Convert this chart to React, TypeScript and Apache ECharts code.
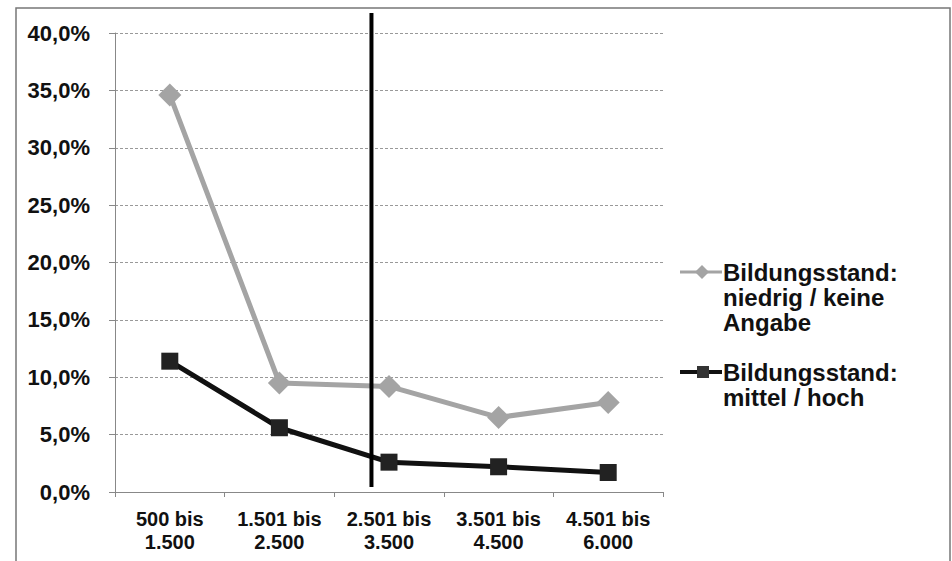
import React, { useEffect, useRef } from "react";
import * as echarts from "echarts";

// Einkommensklassen (Euro) auf der x-Achse
const categories = [
  "500 bis\n1.500",
  "1.501 bis\n2.500",
  "2.501 bis\n3.500",
  "3.501 bis\n4.500",
  "4.501 bis\n6.000",
];

// Anteile in Prozent
const niedrigKeineAngabe = [34.6, 9.5, 9.2, 6.5, 7.8];
const mittelHoch = [11.4, 5.6, 2.6, 2.2, 1.7];

const seriesNames = [
  "Bildungsstand:\nniedrig / keine\nAngabe",
  "Bildungsstand:\nmittel / hoch",
];

const yMin = 0;
const yMax = 40;
const yInterval = 5;

// Position of the vertical divider, as a fractional category index
const dividerIndex = 1.84;

const FONT = "'Liberation Sans', Arial, sans-serif";
const GRAY = "#a4a4a4";
const BLACK = "#111111";

export default function App() {
  const ref = useRef<HTMLDivElement>(null);

  useEffect(() => {
    document.body.style.margin = "0";
    if (!ref.current) return;
    const chart = echarts.init(ref.current, null, { renderer: "svg" });

    chart.setOption({
      animation: false,
      backgroundColor: "#ffffff",
      grid: { left: 115, right: 289, top: 33, bottom: 69 },
      xAxis: {
        type: "category",
        data: categories,
        boundaryGap: true,
        axisLine: { lineStyle: { color: "#888", width: 1 } },
        axisTick: { show: true, length: 5, lineStyle: { color: "#888" } },
        axisLabel: {
          interval: 0,
          fontFamily: FONT,
          fontWeight: "bold",
          fontSize: 20,
          lineHeight: 23,
          color: "#111",
          margin: 15,
        },
        splitLine: { show: false },
      },
      yAxis: {
        type: "value",
        min: yMin,
        max: yMax,
        interval: yInterval,
        axisLine: { show: true, lineStyle: { color: "#888", width: 1 } },
        axisTick: { show: true, length: 6, lineStyle: { color: "#888" } },
        axisLabel: {
          fontFamily: FONT,
          fontWeight: "bold",
          fontSize: 22,
          color: "#111",
          margin: 25,
          formatter: (v: number) => v.toFixed(1).replace(".", ",") + "%",
        },
        splitLine: { show: true, lineStyle: { color: "#999", width: 1, type: [3, 2] } },
      },
      legend: { show: false },
      series: [
        {
          name: seriesNames[0],
          type: "line",
          data: niedrigKeineAngabe,
          symbol: "diamond",
          symbolSize: 23,
          itemStyle: { color: GRAY },
          lineStyle: { color: GRAY, width: 5 },
          z: 2,
        },
        {
          name: seriesNames[1],
          type: "line",
          data: mittelHoch,
          symbol: "rect",
          symbolSize: 17,
          itemStyle: { color: "#222" },
          lineStyle: { color: BLACK, width: 5 },
          z: 3,
        },
      ],
    });

    const x1 = chart.convertToPixel({ xAxisIndex: 0 }, 1) as number;
    const x2 = chart.convertToPixel({ xAxisIndex: 0 }, 2) as number;
    const xDivider = x1 + (dividerIndex - 1) * (x2 - x1);
    const yTop = chart.convertToPixel({ yAxisIndex: 0 }, yMax) as number;
    const yBottom = chart.convertToPixel({ yAxisIndex: 0 }, yMin) as number;

    // Legend entries: key line with marker, then the multi-line label
    const legendLeft = 680;
    const keyWidth = 42;
    const lineH = 25;
    const legendRows = [
      { top: 272, color: GRAY, lw: 3, marker: "diamond" },
      { top: 372, color: BLACK, lw: 4, marker: "square" },
    ];
    const legendGraphics: any[] = [];
    legendRows.forEach((row, i) => {
      legendGraphics.push({
        type: "line",
        shape: { x1: legendLeft, y1: row.top, x2: legendLeft + keyWidth, y2: row.top },
        style: { stroke: row.color, lineWidth: row.lw },
      });
      if (row.marker === "diamond") {
        legendGraphics.push({
          type: "polygon",
          shape: {
            points: [
              [legendLeft + 22, row.top - 7],
              [legendLeft + 29, row.top],
              [legendLeft + 22, row.top + 7],
              [legendLeft + 15, row.top],
            ],
          },
          style: { fill: GRAY },
        });
      } else {
        legendGraphics.push({
          type: "rect",
          shape: { x: legendLeft + 17, y: row.top - 6, width: 12, height: 12 },
          style: { fill: "#333" },
        });
      }
      legendGraphics.push({
        type: "text",
        x: legendLeft + keyWidth + 1,
        y: row.top - lineH / 2,
        style: {
          text: seriesNames[i],
          fontFamily: FONT,
          fontWeight: "bold",
          fontSize: 24,
          lineHeight: lineH,
          fill: "#111",
          verticalAlign: "top",
        },
      });
    });

    chart.setOption({
      graphic: [
        {
          type: "rect",
          shape: { x: 16, y: 8, width: 934, height: 620 },
          style: { fill: "none", stroke: "#777", lineWidth: 1.5 },
          silent: true,
          z: -1,
        },
        {
          type: "line",
          shape: { x1: xDivider, y1: yTop - 20, x2: xDivider, y2: yBottom - 5 },
          style: { stroke: "#000", lineWidth: 4 },
          z: 10,
        },
        ...legendGraphics,
      ],
    });

    return () => chart.dispose();
  }, []);

  return <div ref={ref} style={{ width: 952, height: 561 }} />;
}
